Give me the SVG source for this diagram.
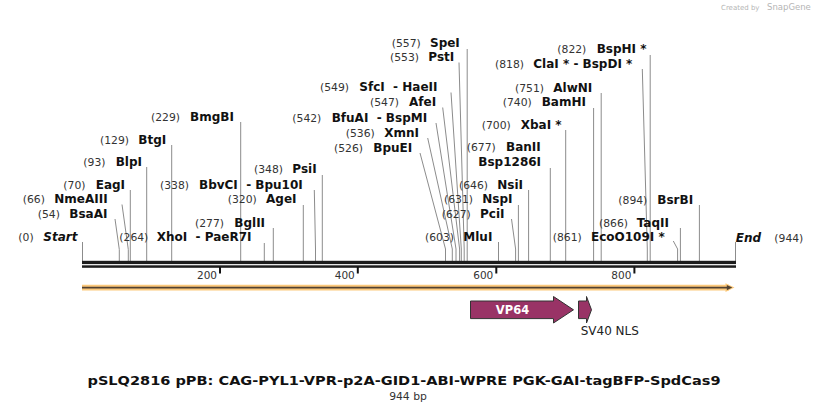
<svg xmlns="http://www.w3.org/2000/svg" width="818" height="411" viewBox="0 0 818 411">
<style>
text{font-family:"DejaVu Sans",Verdana,sans-serif}
.n{font-size:10.8px;fill:#333}
.b{font-size:12px;font-weight:bold;fill:#111}
.bi{font-size:12px;font-weight:bold;font-style:italic;fill:#111}
.t{font-size:10.5px;fill:#333}
.ld{fill:none;stroke:#8c8c8c;stroke-width:1}
.tk{stroke:#111;stroke-width:2}
.feat{fill:#993366;stroke:#333;stroke-width:1}
.wm{fill:#b5b5b5}
</style>
<rect width="818" height="411" fill="#fff"/>
<g id="watermark">
<text class="wm" x="721" y="10" font-size="7px">Created by</text>
<text class="wm" x="767" y="10" font-size="8.5px">SnapGene</text>
</g>
<g id="connectors">
<path class="ld" d="M82.5,242V261"/>
<path class="ld" d="M115,219L119.3,249.5V261"/>
<path class="ld" d="M122,204.5L128.3,249.5V261"/>
<path class="ld" d="M130.3,190V261"/>
<path class="ld" d="M146.7,167V261"/>
<path class="ld" d="M171.7,145V261"/>
<path class="ld" d="M240.7,122V261"/>
<path class="ld" d="M264.3,243V261"/>
<path class="ld" d="M273.3,228V261"/>
<path class="ld" d="M303.3,205V261"/>
<path class="ld" d="M314.3,190L315.5,249V261"/>
<path class="ld" d="M322.3,175V261"/>
<path class="ld" d="M420,153L445.5,249V261"/>
<path class="ld" d="M427.7,138L452.3,249V261"/>
<path class="ld" d="M436,123L456,249V261"/>
<path class="ld" d="M442.7,107.5L459.6,249V261"/>
<path class="ld" d="M451,92.5L461.3,249V261"/>
<path class="ld" d="M459,62.5L464.2,249V261"/>
<path class="ld" d="M467.2,49V261"/>
<path class="ld" d="M498.5,242V261"/>
<path class="ld" d="M511.5,219L515.6,249V261"/>
<path class="ld" d="M518.4,205V261"/>
<path class="ld" d="M528.6,190V261"/>
<path class="ld" d="M550.3,168V261"/>
<path class="ld" d="M565.7,130V261"/>
<path class="ld" d="M593.6,108V261"/>
<path class="ld" d="M601.2,93V261"/>
<path class="ld" d="M642.3,69L647.3,249V261"/>
<path class="ld" d="M650.2,55V261"/>
<path class="ld" d="M673.3,241L677.6,249V261"/>
<path class="ld" d="M680.4,228V261"/>
<path class="ld" d="M699.4,205V261"/>
<path class="ld" d="M735.5,242V261"/>
</g>
<g id="backbone">
<rect x="82" y="260.8" width="654" height="3.3" fill="#1c1c1c"/>
<rect x="82" y="265.3" width="654" height="2.5" fill="#1c1c1c"/>
<line class="tk" x1="220" y1="267" x2="220" y2="273.5"/>
<line class="tk" x1="357.8" y1="267" x2="357.8" y2="273.5"/>
<line class="tk" x1="496.3" y1="267" x2="496.3" y2="273.5"/>
<line class="tk" x1="634.4" y1="267" x2="634.4" y2="273.5"/>
<text class="t" x="217" y="278.5" text-anchor="end">200</text>
<text class="t" x="354.8" y="278.5" text-anchor="end">400</text>
<text class="t" x="493.3" y="278.5" text-anchor="end">600</text>
<text class="t" x="631.4" y="278.5" text-anchor="end">800</text>
</g>
<g id="orf-bar">
<line x1="82" y1="287.6" x2="729" y2="287.6" stroke="#fcc97c" stroke-width="5.8"/>
<polygon points="725.5,283.3 734.5,287.6 725.5,291.9" fill="#fcc97c"/>
<line x1="82" y1="287.6" x2="728" y2="287.6" stroke="#524232" stroke-width="1.9"/>
<polygon points="726.8,285 732.3,287.6 726.8,290.2" fill="#524232"/>
</g>
<g id="feature-VP64">
<path class="feat" d="M470.5,301H553.5V296.5L573.5,309.8L553.5,323V318.6H470.5Z"/>
<text x="512.5" y="314" text-anchor="middle" font-size="11.5px" font-weight="bold" fill="#fff">VP64</text>
</g>
<g id="feature-SV40NLS">
<path class="feat" d="M578.5,301H586.5V296.5L591.5,309.8L586.5,323V318.6H578.5Z"/>
<text x="580.7" y="335" font-size="12px" fill="#222">SV40 NLS</text>
</g>
<g id="site-Start"><text class="n" x="18.3" y="241">(0)</text><text class="bi" x="43.3" y="241">Start</text></g>
<g id="site-BsaAI"><text class="n" x="37.7" y="217.5">(54)</text><text class="b" x="69.3" y="217.5">BsaAI</text></g>
<g id="site-NmeAIII"><text class="n" x="22.7" y="203">(66)</text><text class="b" x="54.3" y="203">NmeAIII</text></g>
<g id="site-EagI"><text class="n" x="63.3" y="188.5">(70)</text><text class="b" x="95.7" y="188.5">EagI</text></g>
<g id="site-BlpI"><text class="n" x="83.3" y="166">(93)</text><text class="b" x="115.7" y="166">BlpI</text></g>
<g id="site-BtgI"><text class="n" x="100" y="143.5">(129)</text><text class="b" x="138.3" y="143.5">BtgI</text></g>
<g id="site-BmgBI"><text class="n" x="151" y="121">(229)</text><text class="b" x="190" y="121">BmgBI</text></g>
<g id="site-BbvCI"><text class="n" x="160" y="188.5">(338)</text><text class="b" x="199" y="188.5" xml:space="preserve">BbvCI  - Bpu10I</text></g>
<g id="site-XhoI"><text class="n" x="119.3" y="241">(264)</text><text class="b" x="156.7" y="241" xml:space="preserve">XhoI  - PaeR7I</text></g>
<g id="site-BglII"><text class="n" x="195" y="226.5">(277)</text><text class="b" x="234.3" y="226.5">BglII</text></g>
<g id="site-AgeI"><text class="n" x="227.7" y="203">(320)</text><text class="b" x="266" y="203">AgeI</text></g>
<g id="site-PsiI"><text class="n" x="254" y="172.5">(348)</text><text class="b" x="292.3" y="172.5">PsiI</text></g>
<g id="site-BpuEI"><text class="n" x="334" y="151.5">(526)</text><text class="b" x="373.3" y="151.5">BpuEI</text></g>
<g id="site-XmnI"><text class="n" x="345.7" y="136.5">(536)</text><text class="b" x="384.3" y="136.5">XmnI</text></g>
<g id="site-BfuAI"><text class="n" x="292.3" y="121.5">(542)</text><text class="b" x="331.7" y="121.5" xml:space="preserve">BfuAI  - BspMI</text></g>
<g id="site-AfeI"><text class="n" x="370" y="106">(547)</text><text class="b" x="409" y="106">AfeI</text></g>
<g id="site-SfcI"><text class="n" x="320" y="91">(549)</text><text class="b" x="359.3" y="91" xml:space="preserve">SfcI  - HaeII</text></g>
<g id="site-PstI"><text class="n" x="390" y="61">(553)</text><text class="b" x="428.3" y="61">PstI</text></g>
<g id="site-SpeI"><text class="n" x="391.7" y="46.5">(557)</text><text class="b" x="430" y="46.5">SpeI</text></g>
<g id="site-MluI"><text class="n" x="425" y="241">(603)</text><text class="b" x="463.3" y="241">MluI</text></g>
<g id="site-PciI"><text class="n" x="441.7" y="217.5">(627)</text><text class="b" x="480" y="217.5">PciI</text></g>
<g id="site-NspI"><text class="n" x="444" y="203">(631)</text><text class="b" x="482.3" y="203">NspI</text></g>
<g id="site-NsiI"><text class="n" x="459" y="188.5">(646)</text><text class="b" x="497.3" y="188.5">NsiI</text></g>
<g id="site-BanII"><text class="n" x="466.7" y="151">(677)</text><text class="b" x="506" y="151">BanII</text><text class="b" x="478.3" y="166">Bsp1286I</text></g>
<g id="site-XbaI"><text class="n" x="481.7" y="128.5">(700)</text><text class="b" x="520.7" y="128.5">XbaI *</text></g>
<g id="site-BamHI"><text class="n" x="502.7" y="106">(740)</text><text class="b" x="541.7" y="106">BamHI</text></g>
<g id="site-AlwNI"><text class="n" x="515" y="91.5">(751)</text><text class="b" x="553.3" y="91.5">AlwNI</text></g>
<g id="site-ClaI"><text class="n" x="495" y="67.5">(818)</text><text class="b" x="533.3" y="67.5">ClaI * - BspDI *</text></g>
<g id="site-BspHI"><text class="n" x="557.3" y="52.5">(822)</text><text class="b" x="596.7" y="52.5">BspHI *</text></g>
<g id="site-EcoO109I"><text class="n" x="552.7" y="241">(861)</text><text class="b" x="591" y="241">EcoO109I *</text></g>
<g id="site-TaqII"><text class="n" x="599" y="226.5">(866)</text><text class="b" x="636.7" y="226.5">TaqII</text></g>
<g id="site-BsrBI"><text class="n" x="618.3" y="203.5">(894)</text><text class="b" x="657.3" y="203.5">BsrBI</text></g>
<g id="site-End"><text class="bi" x="735.7" y="241.5">End</text><text class="n" x="774.3" y="241.5">(944)</text></g>
<g id="title">
<text x="404" y="385" text-anchor="middle" font-size="13px" font-weight="bold" fill="#111" textLength="633" lengthAdjust="spacingAndGlyphs">pSLQ2816 pPB: CAG-PYL1-VPR-p2A-GID1-ABI-WPRE PGK-GAI-tagBFP-SpdCas9</text>
<text x="408" y="400" text-anchor="middle" font-size="10.8px" fill="#333">944 bp</text>
</g>
</svg>
